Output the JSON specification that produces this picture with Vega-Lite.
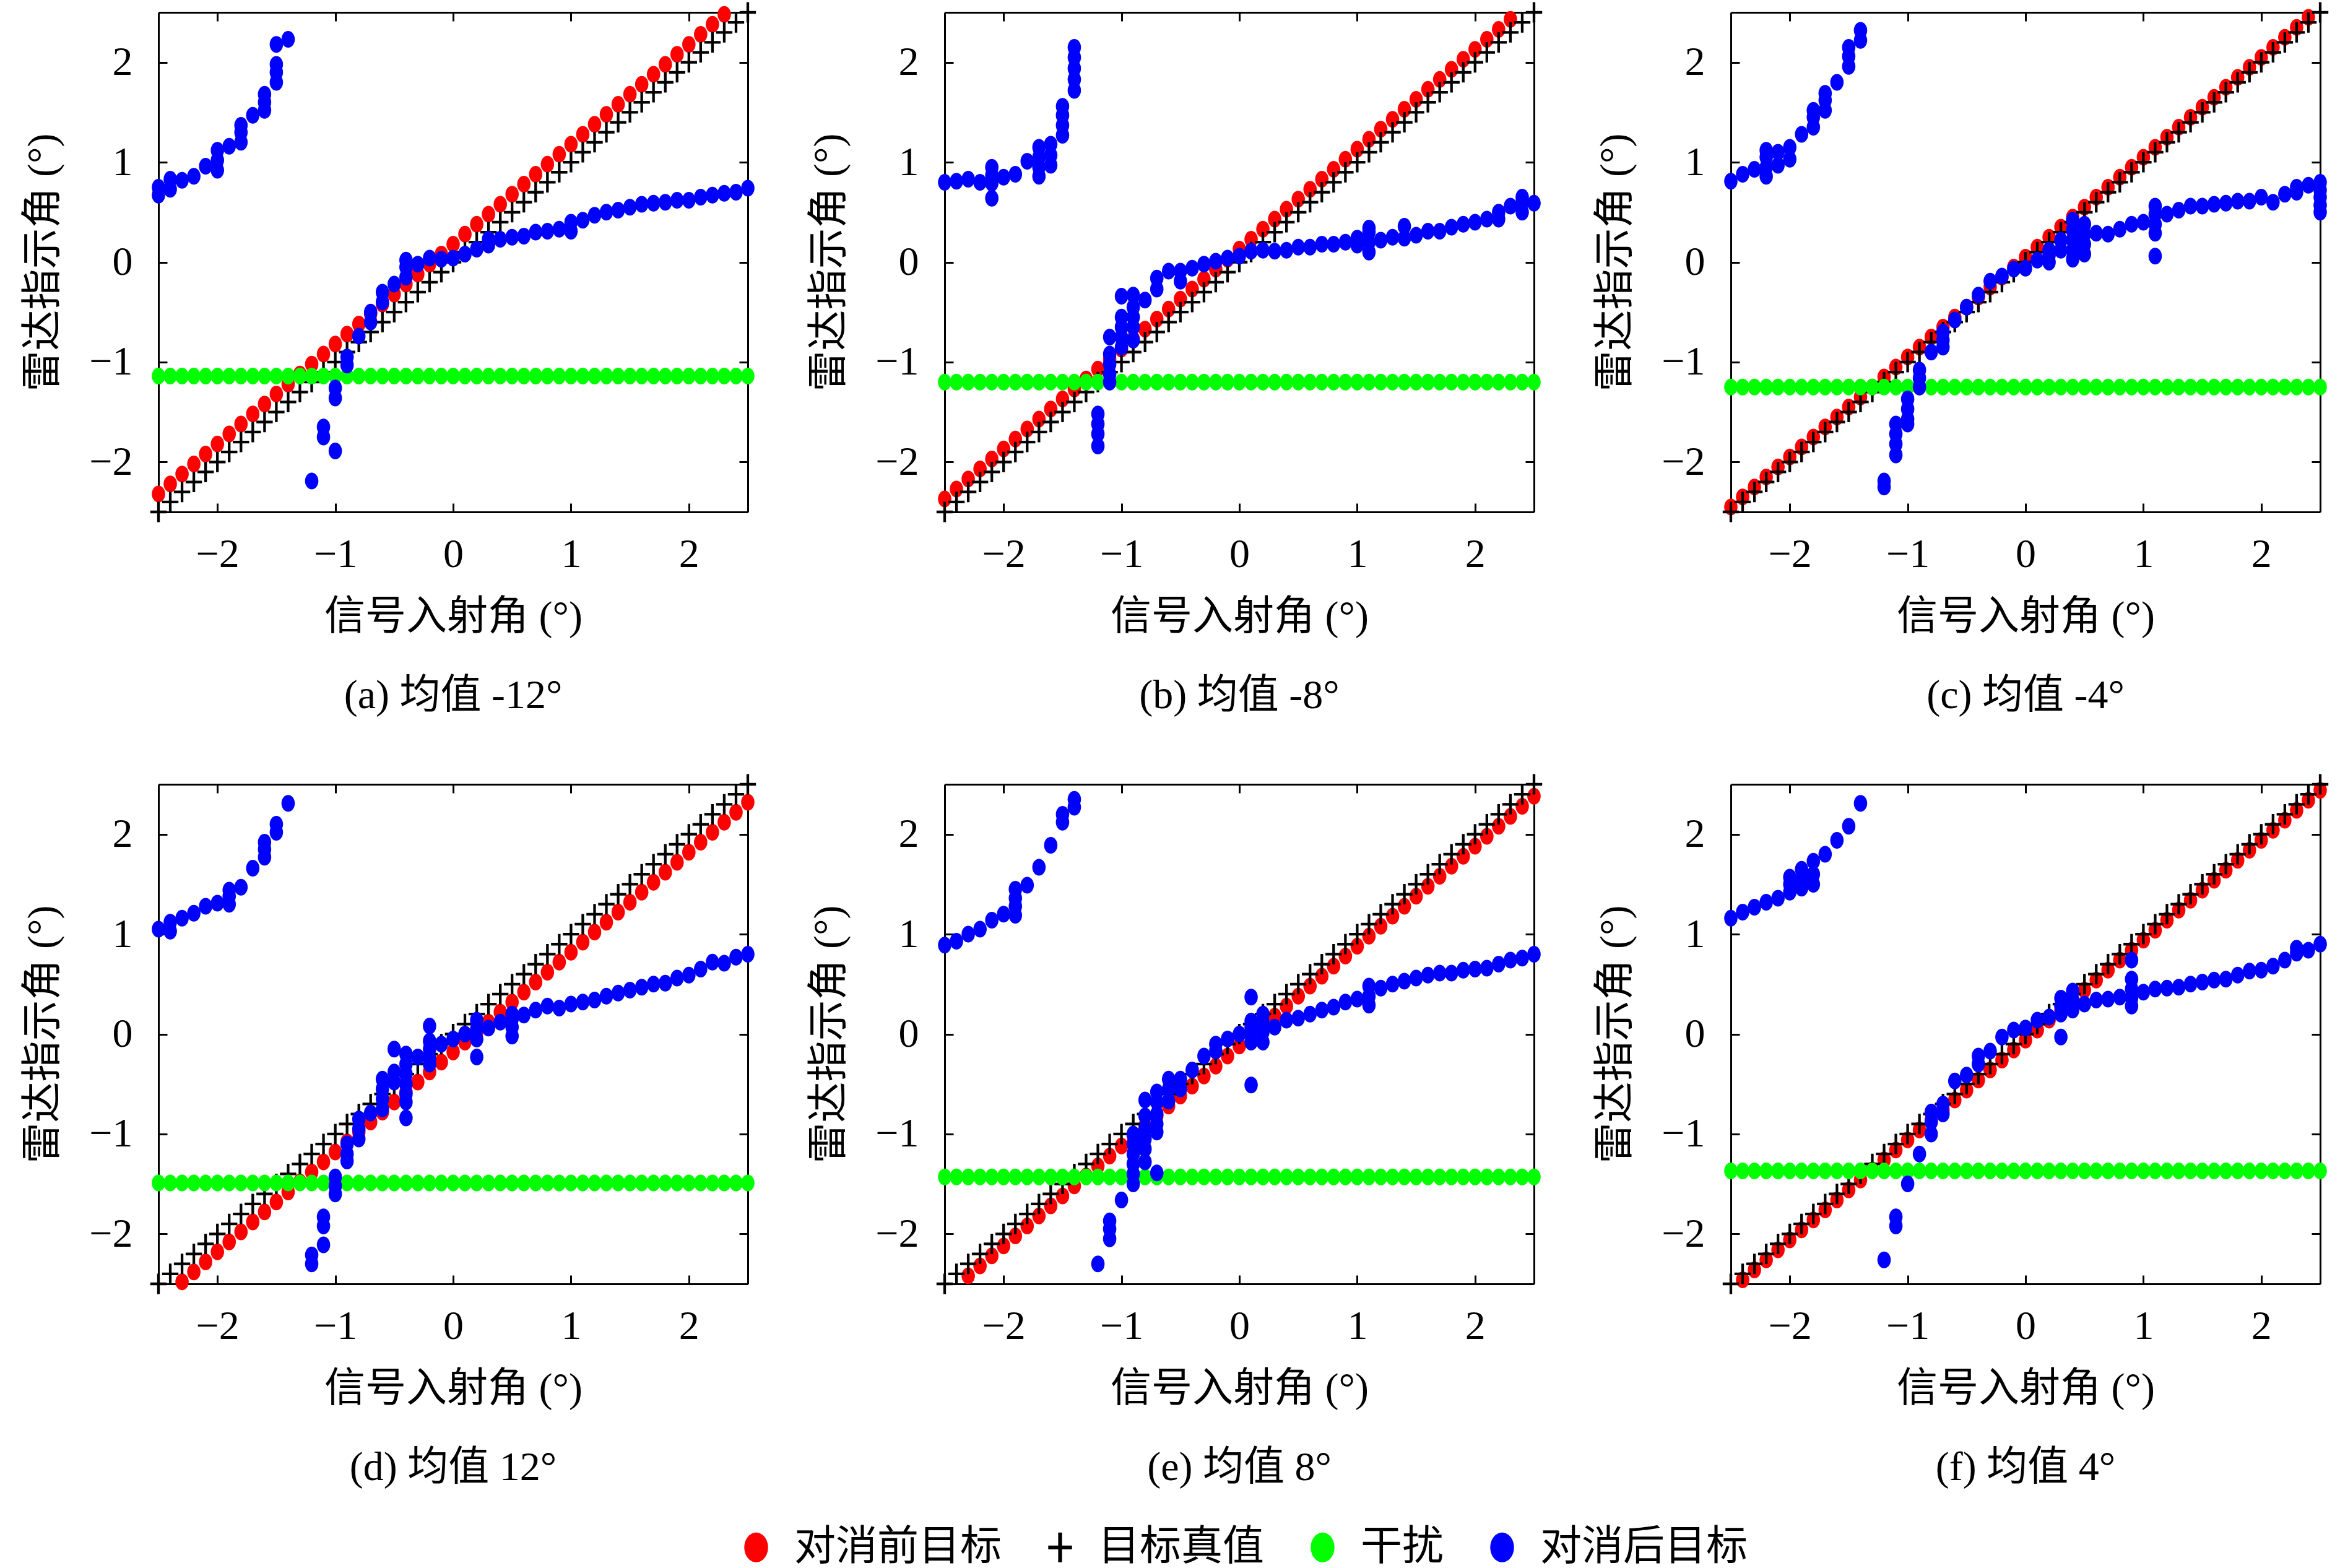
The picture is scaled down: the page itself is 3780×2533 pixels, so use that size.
{
  "$schema": "https://vega.github.io/schema/vega-lite/v6.json",
  "padding": {"left": 36, "top": 3, "right": 10, "bottom": 0},
  "background": "white",
  "data": {
    "values": [
      {"p":"a","x":-2.5,"r":-2.32,"g":-1.14},{"p":"a","x":-2.4,"r":-2.22,"g":-1.14},{"p":"a","x":-2.3,"r":-2.12,"g":-1.14},{"p":"a","x":-2.2,"r":-2.02,"g":-1.14},{"p":"a","x":-2.1,"r":-1.92,"g":-1.14},
      {"p":"a","x":-2.0,"r":-1.82,"g":-1.14},{"p":"a","x":-1.9,"r":-1.72,"g":-1.14},{"p":"a","x":-1.8,"r":-1.62,"g":-1.14},{"p":"a","x":-1.7,"r":-1.52,"g":-1.14},{"p":"a","x":-1.6,"r":-1.42,"g":-1.14},
      {"p":"a","x":-1.5,"r":-1.32,"g":-1.14},{"p":"a","x":-1.4,"r":-1.22,"g":-1.14},{"p":"a","x":-1.3,"r":-1.12,"g":-1.14},{"p":"a","x":-1.2,"r":-1.02,"g":-1.14},{"p":"a","x":-1.1,"r":-0.92,"g":-1.14},
      {"p":"a","x":-1.0,"r":-0.82,"g":-1.14},{"p":"a","x":-0.9,"r":-0.72,"g":-1.14},{"p":"a","x":-0.8,"r":-0.62,"g":-1.14},{"p":"a","x":-0.7,"r":-0.52,"g":-1.14},{"p":"a","x":-0.6,"r":-0.42,"g":-1.14},
      {"p":"a","x":-0.5,"r":-0.32,"g":-1.14},{"p":"a","x":-0.4,"r":-0.22,"g":-1.14},{"p":"a","x":-0.3,"r":-0.12,"g":-1.14},{"p":"a","x":-0.2,"r":-0.02,"g":-1.14},{"p":"a","x":-0.1,"r":0.08,"g":-1.14},
      {"p":"a","x":0.0,"r":0.18,"g":-1.14},{"p":"a","x":0.1,"r":0.28,"g":-1.14},{"p":"a","x":0.2,"r":0.38,"g":-1.14},{"p":"a","x":0.3,"r":0.48,"g":-1.14},{"p":"a","x":0.4,"r":0.58,"g":-1.14},
      {"p":"a","x":0.5,"r":0.68,"g":-1.14},{"p":"a","x":0.6,"r":0.78,"g":-1.14},{"p":"a","x":0.7,"r":0.88,"g":-1.14},{"p":"a","x":0.8,"r":0.98,"g":-1.14},{"p":"a","x":0.9,"r":1.08,"g":-1.14},
      {"p":"a","x":1.0,"r":1.18,"g":-1.14},{"p":"a","x":1.1,"r":1.28,"g":-1.14},{"p":"a","x":1.2,"r":1.38,"g":-1.14},{"p":"a","x":1.3,"r":1.48,"g":-1.14},{"p":"a","x":1.4,"r":1.58,"g":-1.14},
      {"p":"a","x":1.5,"r":1.68,"g":-1.14},{"p":"a","x":1.6,"r":1.78,"g":-1.14},{"p":"a","x":1.7,"r":1.88,"g":-1.14},{"p":"a","x":1.8,"r":1.98,"g":-1.14},{"p":"a","x":1.9,"r":2.08,"g":-1.14},
      {"p":"a","x":2.0,"r":2.18,"g":-1.14},{"p":"a","x":2.1,"r":2.28,"g":-1.14},{"p":"a","x":2.2,"r":2.38,"g":-1.14},{"p":"a","x":2.3,"r":2.48,"g":-1.14},{"p":"a","x":2.4,"g":-1.14},{"p":"a","x":2.5,"g":-1.14},

      {"p":"b","x":-2.5,"r":-2.37,"g":-1.2},{"p":"b","x":-2.4,"r":-2.27,"g":-1.2},{"p":"b","x":-2.3,"r":-2.17,"g":-1.2},{"p":"b","x":-2.2,"r":-2.07,"g":-1.2},{"p":"b","x":-2.1,"r":-1.97,"g":-1.2},
      {"p":"b","x":-2.0,"r":-1.87,"g":-1.2},{"p":"b","x":-1.9,"r":-1.77,"g":-1.2},{"p":"b","x":-1.8,"r":-1.67,"g":-1.2},{"p":"b","x":-1.7,"r":-1.57,"g":-1.2},{"p":"b","x":-1.6,"r":-1.47,"g":-1.2},
      {"p":"b","x":-1.5,"r":-1.37,"g":-1.2},{"p":"b","x":-1.4,"r":-1.27,"g":-1.2},{"p":"b","x":-1.3,"r":-1.17,"g":-1.2},{"p":"b","x":-1.2,"r":-1.07,"g":-1.2},{"p":"b","x":-1.1,"r":-0.97,"g":-1.2},
      {"p":"b","x":-1.0,"r":-0.87,"g":-1.2},{"p":"b","x":-0.9,"r":-0.77,"g":-1.2},{"p":"b","x":-0.8,"r":-0.67,"g":-1.2},{"p":"b","x":-0.7,"r":-0.57,"g":-1.2},{"p":"b","x":-0.6,"r":-0.47,"g":-1.2},
      {"p":"b","x":-0.5,"r":-0.37,"g":-1.2},{"p":"b","x":-0.4,"r":-0.27,"g":-1.2},{"p":"b","x":-0.3,"r":-0.17,"g":-1.2},{"p":"b","x":-0.2,"r":-0.07,"g":-1.2},{"p":"b","x":-0.1,"r":0.03,"g":-1.2},
      {"p":"b","x":0.0,"r":0.13,"g":-1.2},{"p":"b","x":0.1,"r":0.23,"g":-1.2},{"p":"b","x":0.2,"r":0.33,"g":-1.2},{"p":"b","x":0.3,"r":0.43,"g":-1.2},{"p":"b","x":0.4,"r":0.53,"g":-1.2},
      {"p":"b","x":0.5,"r":0.63,"g":-1.2},{"p":"b","x":0.6,"r":0.73,"g":-1.2},{"p":"b","x":0.7,"r":0.83,"g":-1.2},{"p":"b","x":0.8,"r":0.93,"g":-1.2},{"p":"b","x":0.9,"r":1.03,"g":-1.2},
      {"p":"b","x":1.0,"r":1.13,"g":-1.2},{"p":"b","x":1.1,"r":1.23,"g":-1.2},{"p":"b","x":1.2,"r":1.33,"g":-1.2},{"p":"b","x":1.3,"r":1.43,"g":-1.2},{"p":"b","x":1.4,"r":1.53,"g":-1.2},
      {"p":"b","x":1.5,"r":1.63,"g":-1.2},{"p":"b","x":1.6,"r":1.73,"g":-1.2},{"p":"b","x":1.7,"r":1.83,"g":-1.2},{"p":"b","x":1.8,"r":1.93,"g":-1.2},{"p":"b","x":1.9,"r":2.03,"g":-1.2},
      {"p":"b","x":2.0,"r":2.13,"g":-1.2},{"p":"b","x":2.1,"r":2.23,"g":-1.2},{"p":"b","x":2.2,"r":2.33,"g":-1.2},{"p":"b","x":2.3,"r":2.43,"g":-1.2},{"p":"b","x":2.4,"g":-1.2},{"p":"b","x":2.5,"g":-1.2},

      {"p":"c","x":-2.5,"r":-2.45,"g":-1.25},{"p":"c","x":-2.4,"r":-2.35,"g":-1.25},{"p":"c","x":-2.3,"r":-2.25,"g":-1.25},{"p":"c","x":-2.2,"r":-2.15,"g":-1.25},{"p":"c","x":-2.1,"r":-2.05,"g":-1.25},
      {"p":"c","x":-2.0,"r":-1.95,"g":-1.25},{"p":"c","x":-1.9,"r":-1.85,"g":-1.25},{"p":"c","x":-1.8,"r":-1.75,"g":-1.25},{"p":"c","x":-1.7,"r":-1.65,"g":-1.25},{"p":"c","x":-1.6,"r":-1.55,"g":-1.25},
      {"p":"c","x":-1.5,"r":-1.45,"g":-1.25},{"p":"c","x":-1.4,"r":-1.35,"g":-1.25},{"p":"c","x":-1.3,"r":-1.25,"g":-1.25},{"p":"c","x":-1.2,"r":-1.15,"g":-1.25},{"p":"c","x":-1.1,"r":-1.05,"g":-1.25},
      {"p":"c","x":-1.0,"r":-0.95,"g":-1.25},{"p":"c","x":-0.9,"r":-0.85,"g":-1.25},{"p":"c","x":-0.8,"r":-0.75,"g":-1.25},{"p":"c","x":-0.7,"r":-0.65,"g":-1.25},{"p":"c","x":-0.6,"r":-0.55,"g":-1.25},
      {"p":"c","x":-0.5,"r":-0.45,"g":-1.25},{"p":"c","x":-0.4,"r":-0.35,"g":-1.25},{"p":"c","x":-0.3,"r":-0.25,"g":-1.25},{"p":"c","x":-0.2,"r":-0.15,"g":-1.25},{"p":"c","x":-0.1,"r":-0.05,"g":-1.25},
      {"p":"c","x":0.0,"r":0.05,"g":-1.25},{"p":"c","x":0.1,"r":0.15,"g":-1.25},{"p":"c","x":0.2,"r":0.25,"g":-1.25},{"p":"c","x":0.3,"r":0.35,"g":-1.25},{"p":"c","x":0.4,"r":0.45,"g":-1.25},
      {"p":"c","x":0.5,"r":0.55,"g":-1.25},{"p":"c","x":0.6,"r":0.65,"g":-1.25},{"p":"c","x":0.7,"r":0.75,"g":-1.25},{"p":"c","x":0.8,"r":0.85,"g":-1.25},{"p":"c","x":0.9,"r":0.95,"g":-1.25},
      {"p":"c","x":1.0,"r":1.05,"g":-1.25},{"p":"c","x":1.1,"r":1.15,"g":-1.25},{"p":"c","x":1.2,"r":1.25,"g":-1.25},{"p":"c","x":1.3,"r":1.35,"g":-1.25},{"p":"c","x":1.4,"r":1.45,"g":-1.25},
      {"p":"c","x":1.5,"r":1.55,"g":-1.25},{"p":"c","x":1.6,"r":1.65,"g":-1.25},{"p":"c","x":1.7,"r":1.75,"g":-1.25},{"p":"c","x":1.8,"r":1.85,"g":-1.25},{"p":"c","x":1.9,"r":1.95,"g":-1.25},
      {"p":"c","x":2.0,"r":2.05,"g":-1.25},{"p":"c","x":2.1,"r":2.15,"g":-1.25},{"p":"c","x":2.2,"r":2.25,"g":-1.25},{"p":"c","x":2.3,"r":2.35,"g":-1.25},{"p":"c","x":2.4,"r":2.45,"g":-1.25},{"p":"c","x":2.5,"g":-1.25},

      {"p":"d","x":-2.5,"g":-1.49},{"p":"d","x":-2.4,"g":-1.49},{"p":"d","x":-2.3,"r":-2.48,"g":-1.49},{"p":"d","x":-2.2,"r":-2.38,"g":-1.49},{"p":"d","x":-2.1,"r":-2.28,"g":-1.49},
      {"p":"d","x":-2.0,"r":-2.18,"g":-1.49},{"p":"d","x":-1.9,"r":-2.08,"g":-1.49},{"p":"d","x":-1.8,"r":-1.98,"g":-1.49},{"p":"d","x":-1.7,"r":-1.88,"g":-1.49},{"p":"d","x":-1.6,"r":-1.78,"g":-1.49},
      {"p":"d","x":-1.5,"r":-1.68,"g":-1.49},{"p":"d","x":-1.4,"r":-1.58,"g":-1.49},{"p":"d","x":-1.3,"r":-1.48,"g":-1.49},{"p":"d","x":-1.2,"r":-1.38,"g":-1.49},{"p":"d","x":-1.1,"r":-1.28,"g":-1.49},
      {"p":"d","x":-1.0,"r":-1.18,"g":-1.49},{"p":"d","x":-0.9,"r":-1.08,"g":-1.49},{"p":"d","x":-0.8,"r":-0.98,"g":-1.49},{"p":"d","x":-0.7,"r":-0.88,"g":-1.49},{"p":"d","x":-0.6,"r":-0.78,"g":-1.49},
      {"p":"d","x":-0.5,"r":-0.68,"g":-1.49},{"p":"d","x":-0.4,"r":-0.58,"g":-1.49},{"p":"d","x":-0.3,"r":-0.48,"g":-1.49},{"p":"d","x":-0.2,"r":-0.38,"g":-1.49},{"p":"d","x":-0.1,"r":-0.28,"g":-1.49},
      {"p":"d","x":0.0,"r":-0.18,"g":-1.49},{"p":"d","x":0.1,"r":-0.08,"g":-1.49},{"p":"d","x":0.2,"r":0.02,"g":-1.49},{"p":"d","x":0.3,"r":0.12,"g":-1.49},{"p":"d","x":0.4,"r":0.22,"g":-1.49},
      {"p":"d","x":0.5,"r":0.32,"g":-1.49},{"p":"d","x":0.6,"r":0.42,"g":-1.49},{"p":"d","x":0.7,"r":0.52,"g":-1.49},{"p":"d","x":0.8,"r":0.62,"g":-1.49},{"p":"d","x":0.9,"r":0.72,"g":-1.49},
      {"p":"d","x":1.0,"r":0.82,"g":-1.49},{"p":"d","x":1.1,"r":0.92,"g":-1.49},{"p":"d","x":1.2,"r":1.02,"g":-1.49},{"p":"d","x":1.3,"r":1.12,"g":-1.49},{"p":"d","x":1.4,"r":1.22,"g":-1.49},
      {"p":"d","x":1.5,"r":1.32,"g":-1.49},{"p":"d","x":1.6,"r":1.42,"g":-1.49},{"p":"d","x":1.7,"r":1.52,"g":-1.49},{"p":"d","x":1.8,"r":1.62,"g":-1.49},{"p":"d","x":1.9,"r":1.72,"g":-1.49},
      {"p":"d","x":2.0,"r":1.82,"g":-1.49},{"p":"d","x":2.1,"r":1.92,"g":-1.49},{"p":"d","x":2.2,"r":2.02,"g":-1.49},{"p":"d","x":2.3,"r":2.12,"g":-1.49},{"p":"d","x":2.4,"r":2.22,"g":-1.49},{"p":"d","x":2.5,"r":2.32,"g":-1.49},

      {"p":"e","x":-2.5,"g":-1.43},{"p":"e","x":-2.4,"g":-1.43},{"p":"e","x":-2.3,"r":-2.42,"g":-1.43},{"p":"e","x":-2.2,"r":-2.32,"g":-1.43},{"p":"e","x":-2.1,"r":-2.22,"g":-1.43},
      {"p":"e","x":-2.0,"r":-2.12,"g":-1.43},{"p":"e","x":-1.9,"r":-2.02,"g":-1.43},{"p":"e","x":-1.8,"r":-1.92,"g":-1.43},{"p":"e","x":-1.7,"r":-1.82,"g":-1.43},{"p":"e","x":-1.6,"r":-1.72,"g":-1.43},
      {"p":"e","x":-1.5,"r":-1.62,"g":-1.43},{"p":"e","x":-1.4,"r":-1.52,"g":-1.43},{"p":"e","x":-1.3,"r":-1.42,"g":-1.43},{"p":"e","x":-1.2,"r":-1.32,"g":-1.43},{"p":"e","x":-1.1,"r":-1.22,"g":-1.43},
      {"p":"e","x":-1.0,"r":-1.12,"g":-1.43},{"p":"e","x":-0.9,"r":-1.02,"g":-1.43},{"p":"e","x":-0.8,"r":-0.92,"g":-1.43},{"p":"e","x":-0.7,"r":-0.82,"g":-1.43},{"p":"e","x":-0.6,"r":-0.72,"g":-1.43},
      {"p":"e","x":-0.5,"r":-0.62,"g":-1.43},{"p":"e","x":-0.4,"r":-0.52,"g":-1.43},{"p":"e","x":-0.3,"r":-0.42,"g":-1.43},{"p":"e","x":-0.2,"r":-0.32,"g":-1.43},{"p":"e","x":-0.1,"r":-0.22,"g":-1.43},
      {"p":"e","x":0.0,"r":-0.12,"g":-1.43},{"p":"e","x":0.1,"r":-0.02,"g":-1.43},{"p":"e","x":0.2,"r":0.08,"g":-1.43},{"p":"e","x":0.3,"r":0.18,"g":-1.43},{"p":"e","x":0.4,"r":0.28,"g":-1.43},
      {"p":"e","x":0.5,"r":0.38,"g":-1.43},{"p":"e","x":0.6,"r":0.48,"g":-1.43},{"p":"e","x":0.7,"r":0.58,"g":-1.43},{"p":"e","x":0.8,"r":0.68,"g":-1.43},{"p":"e","x":0.9,"r":0.78,"g":-1.43},
      {"p":"e","x":1.0,"r":0.88,"g":-1.43},{"p":"e","x":1.1,"r":0.98,"g":-1.43},{"p":"e","x":1.2,"r":1.08,"g":-1.43},{"p":"e","x":1.3,"r":1.18,"g":-1.43},{"p":"e","x":1.4,"r":1.28,"g":-1.43},
      {"p":"e","x":1.5,"r":1.38,"g":-1.43},{"p":"e","x":1.6,"r":1.48,"g":-1.43},{"p":"e","x":1.7,"r":1.58,"g":-1.43},{"p":"e","x":1.8,"r":1.68,"g":-1.43},{"p":"e","x":1.9,"r":1.78,"g":-1.43},
      {"p":"e","x":2.0,"r":1.88,"g":-1.43},{"p":"e","x":2.1,"r":1.98,"g":-1.43},{"p":"e","x":2.2,"r":2.08,"g":-1.43},{"p":"e","x":2.3,"r":2.18,"g":-1.43},{"p":"e","x":2.4,"r":2.28,"g":-1.43},{"p":"e","x":2.5,"r":2.38,"g":-1.43},

      {"p":"f","x":-2.5,"g":-1.37},{"p":"f","x":-2.4,"r":-2.46,"g":-1.37},{"p":"f","x":-2.3,"r":-2.36,"g":-1.37},{"p":"f","x":-2.2,"r":-2.26,"g":-1.37},{"p":"f","x":-2.1,"r":-2.16,"g":-1.37},
      {"p":"f","x":-2.0,"r":-2.06,"g":-1.37},{"p":"f","x":-1.9,"r":-1.96,"g":-1.37},{"p":"f","x":-1.8,"r":-1.86,"g":-1.37},{"p":"f","x":-1.7,"r":-1.76,"g":-1.37},{"p":"f","x":-1.6,"r":-1.66,"g":-1.37},
      {"p":"f","x":-1.5,"r":-1.56,"g":-1.37},{"p":"f","x":-1.4,"r":-1.46,"g":-1.37},{"p":"f","x":-1.3,"r":-1.36,"g":-1.37},{"p":"f","x":-1.2,"r":-1.26,"g":-1.37},{"p":"f","x":-1.1,"r":-1.16,"g":-1.37},
      {"p":"f","x":-1.0,"r":-1.06,"g":-1.37},{"p":"f","x":-0.9,"r":-0.96,"g":-1.37},{"p":"f","x":-0.8,"r":-0.86,"g":-1.37},{"p":"f","x":-0.7,"r":-0.76,"g":-1.37},{"p":"f","x":-0.6,"r":-0.66,"g":-1.37},
      {"p":"f","x":-0.5,"r":-0.56,"g":-1.37},{"p":"f","x":-0.4,"r":-0.46,"g":-1.37},{"p":"f","x":-0.3,"r":-0.36,"g":-1.37},{"p":"f","x":-0.2,"r":-0.26,"g":-1.37},{"p":"f","x":-0.1,"r":-0.16,"g":-1.37},
      {"p":"f","x":0.0,"r":-0.06,"g":-1.37},{"p":"f","x":0.1,"r":0.04,"g":-1.37},{"p":"f","x":0.2,"r":0.14,"g":-1.37},{"p":"f","x":0.3,"r":0.24,"g":-1.37},{"p":"f","x":0.4,"r":0.34,"g":-1.37},
      {"p":"f","x":0.5,"r":0.44,"g":-1.37},{"p":"f","x":0.6,"r":0.54,"g":-1.37},{"p":"f","x":0.7,"r":0.64,"g":-1.37},{"p":"f","x":0.8,"r":0.74,"g":-1.37},{"p":"f","x":0.9,"r":0.84,"g":-1.37},
      {"p":"f","x":1.0,"r":0.94,"g":-1.37},{"p":"f","x":1.1,"r":1.04,"g":-1.37},{"p":"f","x":1.2,"r":1.14,"g":-1.37},{"p":"f","x":1.3,"r":1.24,"g":-1.37},{"p":"f","x":1.4,"r":1.34,"g":-1.37},
      {"p":"f","x":1.5,"r":1.44,"g":-1.37},{"p":"f","x":1.6,"r":1.54,"g":-1.37},{"p":"f","x":1.7,"r":1.64,"g":-1.37},{"p":"f","x":1.8,"r":1.74,"g":-1.37},{"p":"f","x":1.9,"r":1.84,"g":-1.37},
      {"p":"f","x":2.0,"r":1.94,"g":-1.37},{"p":"f","x":2.1,"r":2.04,"g":-1.37},{"p":"f","x":2.2,"r":2.14,"g":-1.37},{"p":"f","x":2.3,"r":2.24,"g":-1.37},{"p":"f","x":2.4,"r":2.34,"g":-1.37},{"p":"f","x":2.5,"r":2.44,"g":-1.37},

      {"p":"a","x":-2.5,"b":0.67},{"p":"a","x":-2.5,"b":0.75},{"p":"a","x":-2.4,"b":0.73},{"p":"a","x":-2.4,"b":0.83},{"p":"a","x":-2.3,"b":0.82},{"p":"a","x":-2.2,"b":0.86},{"p":"a","x":-2.1,"b":0.96},
      {"p":"a","x":-2.0,"b":0.92},{"p":"a","x":-2.0,"b":1.02},{"p":"a","x":-2.0,"b":1.12},{"p":"a","x":-1.9,"b":1.16},{"p":"a","x":-1.8,"b":1.2},{"p":"a","x":-1.8,"b":1.3},{"p":"a","x":-1.8,"b":1.37},
      {"p":"a","x":-1.7,"b":1.47},{"p":"a","x":-1.6,"b":1.52},{"p":"a","x":-1.6,"b":1.6},{"p":"a","x":-1.6,"b":1.68},{"p":"a","x":-1.5,"b":1.8},{"p":"a","x":-1.5,"b":1.9},{"p":"a","x":-1.5,"b":1.98},{"p":"a","x":-1.5,"b":2.18},
      {"p":"a","x":-1.4,"b":2.23},{"p":"a","x":-1.2,"b":-2.19},{"p":"a","x":-1.1,"b":-1.65},{"p":"a","x":-1.1,"b":-1.75},{"p":"a","x":-1.0,"b":-1.89},{"p":"a","x":-1.0,"b":-1.26},{"p":"a","x":-1.0,"b":-1.36},
      {"p":"a","x":-0.9,"b":-0.95},{"p":"a","x":-0.9,"b":-1.03},{"p":"a","x":-0.8,"b":-0.74},{"p":"a","x":-0.7,"b":-0.5},{"p":"a","x":-0.7,"b":-0.6},{"p":"a","x":-0.6,"b":-0.3},{"p":"a","x":-0.6,"b":-0.4},
      {"p":"a","x":-0.5,"b":-0.22},{"p":"a","x":-0.4,"b":-0.15},{"p":"a","x":-0.4,"b":-0.05},{"p":"a","x":-0.4,"b":0.02},{"p":"a","x":-0.3,"b":-0.02},{"p":"a","x":-0.2,"b":0.04},{"p":"a","x":-0.1,"b":0.03},
      {"p":"a","x":0.0,"b":0.04},{"p":"a","x":0.1,"b":0.08},{"p":"a","x":0.2,"b":0.13},{"p":"a","x":0.3,"b":0.17},{"p":"a","x":0.3,"b":0.23},{"p":"a","x":0.4,"b":0.23},{"p":"a","x":0.5,"b":0.25},{"p":"a","x":0.6,"b":0.26},
      {"p":"a","x":0.7,"b":0.3},{"p":"a","x":0.8,"b":0.31},{"p":"a","x":0.9,"b":0.33},{"p":"a","x":1.0,"b":0.31},{"p":"a","x":1.0,"b":0.4},{"p":"a","x":1.1,"b":0.42},{"p":"a","x":1.2,"b":0.47},{"p":"a","x":1.3,"b":0.5},
      {"p":"a","x":1.4,"b":0.52},{"p":"a","x":1.5,"b":0.55},{"p":"a","x":1.6,"b":0.58},{"p":"a","x":1.7,"b":0.59},{"p":"a","x":1.8,"b":0.6},{"p":"a","x":1.9,"b":0.62},{"p":"a","x":2.0,"b":0.62},{"p":"a","x":2.1,"b":0.65},
      {"p":"a","x":2.2,"b":0.67},{"p":"a","x":2.3,"b":0.69},{"p":"a","x":2.4,"b":0.7},{"p":"a","x":2.5,"b":0.74},

      {"p":"b","x":-2.5,"b":0.8},{"p":"b","x":-2.4,"b":0.81},{"p":"b","x":-2.3,"b":0.83},{"p":"b","x":-2.2,"b":0.8},{"p":"b","x":-2.1,"b":0.64},{"p":"b","x":-2.1,"b":0.79},{"p":"b","x":-2.1,"b":0.87},{"p":"b","x":-2.1,"b":0.95},
      {"p":"b","x":-2.0,"b":0.85},{"p":"b","x":-1.9,"b":0.88},{"p":"b","x":-1.8,"b":1.01},{"p":"b","x":-1.7,"b":0.86},{"p":"b","x":-1.7,"b":0.95},{"p":"b","x":-1.7,"b":1.05},{"p":"b","x":-1.7,"b":1.15},
      {"p":"b","x":-1.6,"b":0.97},{"p":"b","x":-1.6,"b":1.07},{"p":"b","x":-1.6,"b":1.18},{"p":"b","x":-1.5,"b":1.27},{"p":"b","x":-1.5,"b":1.37},{"p":"b","x":-1.5,"b":1.47},{"p":"b","x":-1.5,"b":1.56},
      {"p":"b","x":-1.4,"b":1.72},{"p":"b","x":-1.4,"b":1.83},{"p":"b","x":-1.4,"b":1.94},{"p":"b","x":-1.4,"b":2.05},{"p":"b","x":-1.4,"b":2.15},
      {"p":"b","x":-1.2,"b":-1.52},{"p":"b","x":-1.2,"b":-1.62},{"p":"b","x":-1.2,"b":-1.72},{"p":"b","x":-1.2,"b":-1.84},
      {"p":"b","x":-1.1,"b":-0.75},{"p":"b","x":-1.1,"b":-0.92},{"p":"b","x":-1.1,"b":-1.02},{"p":"b","x":-1.1,"b":-1.12},{"p":"b","x":-1.1,"b":-1.2},
      {"p":"b","x":-1.0,"b":-0.34},{"p":"b","x":-1.0,"b":-0.55},{"p":"b","x":-1.0,"b":-0.65},{"p":"b","x":-1.0,"b":-0.75},{"p":"b","x":-1.0,"b":-0.85},
      {"p":"b","x":-0.9,"b":-0.33},{"p":"b","x":-0.9,"b":-0.45},{"p":"b","x":-0.9,"b":-0.55},{"p":"b","x":-0.9,"b":-0.65},{"p":"b","x":-0.9,"b":-0.78},
      {"p":"b","x":-0.8,"b":-0.38},{"p":"b","x":-0.7,"b":-0.16},{"p":"b","x":-0.7,"b":-0.27},{"p":"b","x":-0.6,"b":-0.09},{"p":"b","x":-0.5,"b":-0.09},{"p":"b","x":-0.5,"b":-0.19},
      {"p":"b","x":-0.4,"b":-0.06},{"p":"b","x":-0.3,"b":-0.02},{"p":"b","x":-0.2,"b":0.01},{"p":"b","x":-0.1,"b":0.04},{"p":"b","x":0.0,"b":0.06},{"p":"b","x":0.1,"b":0.11},{"p":"b","x":0.2,"b":0.12},
      {"p":"b","x":0.3,"b":0.11},{"p":"b","x":0.4,"b":0.12},{"p":"b","x":0.5,"b":0.15},{"p":"b","x":0.6,"b":0.15},{"p":"b","x":0.7,"b":0.18},{"p":"b","x":0.8,"b":0.18},{"p":"b","x":0.9,"b":0.2},
      {"p":"b","x":1.0,"b":0.17},{"p":"b","x":1.0,"b":0.24},{"p":"b","x":1.1,"b":0.1},{"p":"b","x":1.1,"b":0.2},{"p":"b","x":1.1,"b":0.3},{"p":"b","x":1.1,"b":0.34},{"p":"b","x":1.2,"b":0.22},{"p":"b","x":1.3,"b":0.25},
      {"p":"b","x":1.4,"b":0.24},{"p":"b","x":1.4,"b":0.36},{"p":"b","x":1.5,"b":0.27},{"p":"b","x":1.6,"b":0.31},{"p":"b","x":1.7,"b":0.31},{"p":"b","x":1.8,"b":0.35},{"p":"b","x":1.9,"b":0.38},{"p":"b","x":2.0,"b":0.4},
      {"p":"b","x":2.1,"b":0.43},{"p":"b","x":2.2,"b":0.43},{"p":"b","x":2.2,"b":0.5},{"p":"b","x":2.3,"b":0.56},{"p":"b","x":2.4,"b":0.5},{"p":"b","x":2.4,"b":0.6},{"p":"b","x":2.4,"b":0.65},{"p":"b","x":2.5,"b":0.59},

      {"p":"c","x":-2.5,"b":0.81},{"p":"c","x":-2.4,"b":0.88},{"p":"c","x":-2.3,"b":0.93},{"p":"c","x":-2.2,"b":0.86},{"p":"c","x":-2.2,"b":0.95},{"p":"c","x":-2.2,"b":1.05},{"p":"c","x":-2.2,"b":1.12},
      {"p":"c","x":-2.1,"b":0.97},{"p":"c","x":-2.1,"b":1.1},{"p":"c","x":-2.0,"b":1.03},{"p":"c","x":-2.0,"b":1.15},{"p":"c","x":-1.9,"b":1.28},{"p":"c","x":-1.8,"b":1.35},{"p":"c","x":-1.8,"b":1.45},{"p":"c","x":-1.8,"b":1.52},
      {"p":"c","x":-1.7,"b":1.52},{"p":"c","x":-1.7,"b":1.62},{"p":"c","x":-1.7,"b":1.69},{"p":"c","x":-1.6,"b":1.8},{"p":"c","x":-1.5,"b":1.96},{"p":"c","x":-1.5,"b":2.06},{"p":"c","x":-1.5,"b":2.15},
      {"p":"c","x":-1.4,"b":2.22},{"p":"c","x":-1.4,"b":2.32},{"p":"c","x":-1.2,"b":-2.19},{"p":"c","x":-1.2,"b":-2.25},
      {"p":"c","x":-1.1,"b":-1.62},{"p":"c","x":-1.1,"b":-1.72},{"p":"c","x":-1.1,"b":-1.82},{"p":"c","x":-1.1,"b":-1.93},
      {"p":"c","x":-1.0,"b":-1.37},{"p":"c","x":-1.0,"b":-1.47},{"p":"c","x":-1.0,"b":-1.57},{"p":"c","x":-1.0,"b":-1.62},
      {"p":"c","x":-0.9,"b":-1.08},{"p":"c","x":-0.9,"b":-1.16},{"p":"c","x":-0.9,"b":-1.25},{"p":"c","x":-0.8,"b":-0.9},
      {"p":"c","x":-0.7,"b":-0.7},{"p":"c","x":-0.7,"b":-0.78},{"p":"c","x":-0.7,"b":-0.85},{"p":"c","x":-0.6,"b":-0.58},{"p":"c","x":-0.5,"b":-0.45},{"p":"c","x":-0.4,"b":-0.33},
      {"p":"c","x":-0.3,"b":-0.19},{"p":"c","x":-0.2,"b":-0.14},{"p":"c","x":-0.1,"b":-0.07},{"p":"c","x":0.0,"b":-0.06},{"p":"c","x":0.1,"b":0.02},
      {"p":"c","x":0.2,"b":0.0},{"p":"c","x":0.2,"b":0.07},{"p":"c","x":0.2,"b":0.12},{"p":"c","x":0.3,"b":0.12},{"p":"c","x":0.3,"b":0.22},
      {"p":"c","x":0.4,"b":0.03},{"p":"c","x":0.4,"b":0.12},{"p":"c","x":0.4,"b":0.22},{"p":"c","x":0.4,"b":0.32},{"p":"c","x":0.4,"b":0.42},
      {"p":"c","x":0.5,"b":0.08},{"p":"c","x":0.5,"b":0.18},{"p":"c","x":0.5,"b":0.28},{"p":"c","x":0.5,"b":0.38},
      {"p":"c","x":0.6,"b":0.29},{"p":"c","x":0.7,"b":0.28},{"p":"c","x":0.8,"b":0.33},{"p":"c","x":0.9,"b":0.38},{"p":"c","x":1.0,"b":0.4},
      {"p":"c","x":1.1,"b":0.06},{"p":"c","x":1.1,"b":0.29},{"p":"c","x":1.1,"b":0.38},{"p":"c","x":1.1,"b":0.48},{"p":"c","x":1.1,"b":0.56},
      {"p":"c","x":1.2,"b":0.48},{"p":"c","x":1.3,"b":0.52},{"p":"c","x":1.4,"b":0.56},{"p":"c","x":1.5,"b":0.56},{"p":"c","x":1.6,"b":0.58},{"p":"c","x":1.7,"b":0.59},{"p":"c","x":1.8,"b":0.61},
      {"p":"c","x":1.9,"b":0.61},{"p":"c","x":2.0,"b":0.65},{"p":"c","x":2.1,"b":0.6},{"p":"c","x":2.2,"b":0.68},{"p":"c","x":2.3,"b":0.7},{"p":"c","x":2.3,"b":0.75},{"p":"c","x":2.4,"b":0.77},
      {"p":"c","x":2.5,"b":0.5},{"p":"c","x":2.5,"b":0.57},{"p":"c","x":2.5,"b":0.65},{"p":"c","x":2.5,"b":0.72},{"p":"c","x":2.5,"b":0.8},

      {"p":"d","x":-2.5,"b":1.05},{"p":"d","x":-2.4,"b":1.03},{"p":"d","x":-2.4,"b":1.12},{"p":"d","x":-2.3,"b":1.16},{"p":"d","x":-2.2,"b":1.21},{"p":"d","x":-2.1,"b":1.28},{"p":"d","x":-2.0,"b":1.31},
      {"p":"d","x":-1.9,"b":1.3},{"p":"d","x":-1.9,"b":1.38},{"p":"d","x":-1.9,"b":1.44},{"p":"d","x":-1.8,"b":1.47},{"p":"d","x":-1.7,"b":1.66},{"p":"d","x":-1.6,"b":1.77},{"p":"d","x":-1.6,"b":1.85},{"p":"d","x":-1.6,"b":1.92},
      {"p":"d","x":-1.5,"b":2.02},{"p":"d","x":-1.5,"b":2.1},{"p":"d","x":-1.4,"b":2.31},{"p":"d","x":-1.2,"b":-2.21},{"p":"d","x":-1.2,"b":-2.3},
      {"p":"d","x":-1.1,"b":-1.83},{"p":"d","x":-1.1,"b":-1.92},{"p":"d","x":-1.1,"b":-2.11},{"p":"d","x":-1.0,"b":-1.43},{"p":"d","x":-1.0,"b":-1.52},{"p":"d","x":-1.0,"b":-1.6},
      {"p":"d","x":-0.9,"b":-1.1},{"p":"d","x":-0.9,"b":-1.2},{"p":"d","x":-0.9,"b":-1.27},{"p":"d","x":-0.8,"b":-0.85},{"p":"d","x":-0.8,"b":-0.95},{"p":"d","x":-0.8,"b":-1.05},{"p":"d","x":-0.7,"b":-0.79},
      {"p":"d","x":-0.6,"b":-0.45},{"p":"d","x":-0.6,"b":-0.55},{"p":"d","x":-0.6,"b":-0.65},{"p":"d","x":-0.6,"b":-0.75},
      {"p":"d","x":-0.5,"b":-0.15},{"p":"d","x":-0.5,"b":-0.38},{"p":"d","x":-0.5,"b":-0.48},
      {"p":"d","x":-0.4,"b":-0.2},{"p":"d","x":-0.4,"b":-0.3},{"p":"d","x":-0.4,"b":-0.4},{"p":"d","x":-0.4,"b":-0.5},{"p":"d","x":-0.4,"b":-0.6},{"p":"d","x":-0.4,"b":-0.68},{"p":"d","x":-0.4,"b":-0.84},
      {"p":"d","x":-0.3,"b":-0.23},{"p":"d","x":-0.2,"b":0.08},{"p":"d","x":-0.2,"b":-0.07},{"p":"d","x":-0.2,"b":-0.15},{"p":"d","x":-0.2,"b":-0.25},{"p":"d","x":-0.2,"b":-0.3},
      {"p":"d","x":-0.1,"b":-0.1},{"p":"d","x":0.0,"b":-0.05},{"p":"d","x":0.1,"b":0.0},{"p":"d","x":0.2,"b":-0.05},{"p":"d","x":0.2,"b":0.05},{"p":"d","x":0.2,"b":0.14},{"p":"d","x":0.2,"b":-0.23},
      {"p":"d","x":0.3,"b":0.06},{"p":"d","x":0.4,"b":0.12},{"p":"d","x":0.5,"b":-0.02},{"p":"d","x":0.5,"b":0.07},{"p":"d","x":0.5,"b":0.15},{"p":"d","x":0.5,"b":0.2},
      {"p":"d","x":0.6,"b":0.19},{"p":"d","x":0.7,"b":0.24},{"p":"d","x":0.8,"b":0.28},{"p":"d","x":0.9,"b":0.26},{"p":"d","x":1.0,"b":0.3},{"p":"d","x":1.1,"b":0.32},{"p":"d","x":1.2,"b":0.34},
      {"p":"d","x":1.3,"b":0.38},{"p":"d","x":1.4,"b":0.41},{"p":"d","x":1.5,"b":0.44},{"p":"d","x":1.6,"b":0.47},{"p":"d","x":1.7,"b":0.5},{"p":"d","x":1.8,"b":0.51},{"p":"d","x":1.9,"b":0.56},
      {"p":"d","x":2.0,"b":0.59},{"p":"d","x":2.1,"b":0.65},{"p":"d","x":2.2,"b":0.72},{"p":"d","x":2.3,"b":0.71},{"p":"d","x":2.4,"b":0.77},{"p":"d","x":2.5,"b":0.8},

      {"p":"e","x":-2.5,"b":0.89},{"p":"e","x":-2.4,"b":0.93},{"p":"e","x":-2.3,"b":1.0},{"p":"e","x":-2.2,"b":1.05},{"p":"e","x":-2.1,"b":1.14},{"p":"e","x":-2.0,"b":1.2},
      {"p":"e","x":-1.9,"b":1.19},{"p":"e","x":-1.9,"b":1.28},{"p":"e","x":-1.9,"b":1.36},{"p":"e","x":-1.9,"b":1.45},{"p":"e","x":-1.8,"b":1.49},{"p":"e","x":-1.7,"b":1.67},{"p":"e","x":-1.6,"b":1.89},
      {"p":"e","x":-1.5,"b":2.12},{"p":"e","x":-1.5,"b":2.2},{"p":"e","x":-1.4,"b":2.27},{"p":"e","x":-1.4,"b":2.35},
      {"p":"e","x":-1.2,"b":-2.3},{"p":"e","x":-1.1,"b":-1.87},{"p":"e","x":-1.1,"b":-1.95},{"p":"e","x":-1.1,"b":-2.05},{"p":"e","x":-1.0,"b":-1.66},
      {"p":"e","x":-0.9,"b":-1.0},{"p":"e","x":-0.9,"b":-1.1},{"p":"e","x":-0.9,"b":-1.2},{"p":"e","x":-0.9,"b":-1.3},{"p":"e","x":-0.9,"b":-1.4},{"p":"e","x":-0.9,"b":-1.5},
      {"p":"e","x":-0.8,"b":-0.66},{"p":"e","x":-0.8,"b":-0.82},{"p":"e","x":-0.8,"b":-0.95},{"p":"e","x":-0.8,"b":-1.05},{"p":"e","x":-0.8,"b":-1.15},{"p":"e","x":-0.8,"b":-1.28},
      {"p":"e","x":-0.7,"b":-0.58},{"p":"e","x":-0.7,"b":-0.68},{"p":"e","x":-0.7,"b":-0.8},{"p":"e","x":-0.7,"b":-0.9},{"p":"e","x":-0.7,"b":-0.98},{"p":"e","x":-0.7,"b":-1.39},
      {"p":"e","x":-0.6,"b":-0.45},{"p":"e","x":-0.6,"b":-0.55},{"p":"e","x":-0.6,"b":-0.67},{"p":"e","x":-0.5,"b":-0.45},{"p":"e","x":-0.5,"b":-0.55},{"p":"e","x":-0.4,"b":-0.36},
      {"p":"e","x":-0.3,"b":-0.22},{"p":"e","x":-0.2,"b":-0.1},{"p":"e","x":-0.2,"b":-0.17},{"p":"e","x":-0.1,"b":-0.05},{"p":"e","x":0.0,"b":0.0},
      {"p":"e","x":0.1,"b":0.37},{"p":"e","x":0.1,"b":-0.08},{"p":"e","x":0.1,"b":0.0},{"p":"e","x":0.1,"b":0.07},{"p":"e","x":0.1,"b":0.13},{"p":"e","x":0.1,"b":-0.51},
      {"p":"e","x":0.2,"b":-0.08},{"p":"e","x":0.2,"b":0.02},{"p":"e","x":0.2,"b":0.12},{"p":"e","x":0.2,"b":0.2},
      {"p":"e","x":0.3,"b":0.07},{"p":"e","x":0.4,"b":0.14},{"p":"e","x":0.5,"b":0.16},{"p":"e","x":0.6,"b":0.2},{"p":"e","x":0.7,"b":0.24},{"p":"e","x":0.8,"b":0.27},{"p":"e","x":0.9,"b":0.32},{"p":"e","x":1.0,"b":0.35},
      {"p":"e","x":1.1,"b":0.29},{"p":"e","x":1.1,"b":0.38},{"p":"e","x":1.1,"b":0.48},{"p":"e","x":1.2,"b":0.46},{"p":"e","x":1.3,"b":0.5},{"p":"e","x":1.4,"b":0.53},{"p":"e","x":1.5,"b":0.56},
      {"p":"e","x":1.6,"b":0.59},{"p":"e","x":1.7,"b":0.61},{"p":"e","x":1.8,"b":0.61},{"p":"e","x":1.9,"b":0.64},{"p":"e","x":2.0,"b":0.65},{"p":"e","x":2.1,"b":0.66},{"p":"e","x":2.2,"b":0.7},
      {"p":"e","x":2.3,"b":0.74},{"p":"e","x":2.4,"b":0.76},{"p":"e","x":2.5,"b":0.8},

      {"p":"f","x":-2.5,"b":1.16},{"p":"f","x":-2.4,"b":1.22},{"p":"f","x":-2.3,"b":1.27},{"p":"f","x":-2.2,"b":1.32},{"p":"f","x":-2.1,"b":1.36},
      {"p":"f","x":-2.0,"b":1.42},{"p":"f","x":-2.0,"b":1.5},{"p":"f","x":-2.0,"b":1.57},{"p":"f","x":-1.9,"b":1.46},{"p":"f","x":-1.9,"b":1.55},{"p":"f","x":-1.9,"b":1.65},
      {"p":"f","x":-1.8,"b":1.5},{"p":"f","x":-1.8,"b":1.6},{"p":"f","x":-1.8,"b":1.73},{"p":"f","x":-1.7,"b":1.8},{"p":"f","x":-1.6,"b":1.94},{"p":"f","x":-1.5,"b":2.08},{"p":"f","x":-1.4,"b":2.31},
      {"p":"f","x":-1.2,"b":-2.26},{"p":"f","x":-1.1,"b":-1.83},{"p":"f","x":-1.1,"b":-1.92},{"p":"f","x":-1.0,"b":-1.5},{"p":"f","x":-0.9,"b":-1.2},
      {"p":"f","x":-0.8,"b":-0.78},{"p":"f","x":-0.8,"b":-0.88},{"p":"f","x":-0.8,"b":-1.0},{"p":"f","x":-0.7,"b":-0.7},{"p":"f","x":-0.7,"b":-0.8},{"p":"f","x":-0.6,"b":-0.47},{"p":"f","x":-0.5,"b":-0.41},
      {"p":"f","x":-0.4,"b":-0.22},{"p":"f","x":-0.4,"b":-0.3},{"p":"f","x":-0.3,"b":-0.17},{"p":"f","x":-0.2,"b":-0.03},{"p":"f","x":-0.1,"b":0.04},{"p":"f","x":0.0,"b":0.06},{"p":"f","x":0.1,"b":0.14},{"p":"f","x":0.2,"b":0.17},
      {"p":"f","x":0.3,"b":0.2},{"p":"f","x":0.3,"b":0.28},{"p":"f","x":0.3,"b":0.36},{"p":"f","x":0.3,"b":-0.03},{"p":"f","x":0.4,"b":0.24},{"p":"f","x":0.4,"b":0.34},{"p":"f","x":0.4,"b":0.43},
      {"p":"f","x":0.5,"b":0.3},{"p":"f","x":0.6,"b":0.34},{"p":"f","x":0.7,"b":0.35},{"p":"f","x":0.8,"b":0.37},
      {"p":"f","x":0.9,"b":0.74},{"p":"f","x":0.9,"b":0.28},{"p":"f","x":0.9,"b":0.36},{"p":"f","x":0.9,"b":0.45},{"p":"f","x":0.9,"b":0.55},
      {"p":"f","x":1.0,"b":0.42},{"p":"f","x":1.1,"b":0.45},{"p":"f","x":1.2,"b":0.46},{"p":"f","x":1.3,"b":0.47},{"p":"f","x":1.4,"b":0.5},{"p":"f","x":1.5,"b":0.52},{"p":"f","x":1.6,"b":0.54},
      {"p":"f","x":1.7,"b":0.55},{"p":"f","x":1.8,"b":0.59},{"p":"f","x":1.9,"b":0.63},{"p":"f","x":2.0,"b":0.64},{"p":"f","x":2.1,"b":0.68},{"p":"f","x":2.2,"b":0.74},
      {"p":"f","x":2.3,"b":0.81},{"p":"f","x":2.3,"b":0.86},{"p":"f","x":2.4,"b":0.84},{"p":"f","x":2.5,"b":0.9}
    ]
  },
  "facet": {
    "field": "p",
    "type": "nominal",
    "header": {
      "title": null,
      "labelOrient": "bottom",
      "labelExpr": "{'a':'(a) 均值 -12°','b':'(b) 均值 -8°','c':'(c) 均值 -4°','d':'(d) 均值 12°','e':'(e) 均值 8°','f':'(f) 均值 4°'}[datum.value]",
      "labelFontSize": 66,
      "labelColor": "#000",
      "labelPadding": 63
    }
  },
  "columns": 3,
  "spacing": {"row": 93, "column": 84},
  "resolve": {"axis": {"x": "independent", "y": "independent"}},
  "spec": {
    "width": 952,
    "height": 807,
    "resolve": {"axis": {"x": "independent", "y": "independent"}},
    "layer": [
      {
        "transform": [{"filter": {"field": "r", "valid": true}}],
        "mark": {"type": "point", "filled": true, "size": 729, "strokeWidth": 0, "opacity": 1},
        "encoding": {
          "x": {"field": "x", "type": "quantitative", "scale": {"domain": [-2.5, 2.5], "nice": false, "zero": false},
                "axis": {"orient": "bottom", "values": [-2, -1, 0, 1, 2], "title": "信号入射角 (°)"}},
          "y": {"field": "r", "type": "quantitative", "scale": {"domain": [-2.5, 2.5], "nice": false, "zero": false},
                "axis": {"orient": "left", "values": [-2, -1, 0, 1, 2], "title": "雷达指示角 (°)"}},
          "color": {
            "datum": "对消前目标",
            "scale": {"domain": ["对消前目标", "目标真值", "干扰", "对消后目标"], "range": ["#ff0000", "#000000", "#00ff00", "#0000ff"]},
            "legend": {
              "orient": "none", "legendX": 932, "legendY": 2446, "direction": "horizontal", "title": null,
              "labelFontSize": 67, "labelColor": "#000", "symbolSize": 2300, "labelOffset": 28, "columnPadding": 61,
              "symbolStrokeWidth": 0, "labelLimit": 1000
            }
          },
          "shape": {
            "datum": "对消前目标",
            "scale": {"domain": ["对消前目标", "目标真值", "干扰", "对消后目标"],
              "range": [
                "M0,-1C0.442,-1,0.8,-0.552,0.8,0C0.8,0.552,0.442,1,0,1C-0.442,1,-0.8,0.552,-0.8,0C-0.8,-0.552,-0.442,-1,0,-1Z",
                "M-0.8,-0.13H0.8V0.13H-0.8ZM-0.13,-1H0.13V1H-0.13Z",
                "M0,-1C0.442,-1,0.8,-0.552,0.8,0C0.8,0.552,0.442,1,0,1C-0.442,1,-0.8,0.552,-0.8,0C-0.8,-0.552,-0.442,-1,0,-1Z",
                "M0,-1C0.442,-1,0.8,-0.552,0.8,0C0.8,0.552,0.442,1,0,1C-0.442,1,-0.8,0.552,-0.8,0C-0.8,-0.552,-0.442,-1,0,-1Z"
              ]}
          }
        }
      },
      {
        "transform": [{"filter": {"field": "g", "valid": true}}],
        "mark": {"type": "point", "filled": true, "size": 1089, "strokeWidth": 0, "opacity": 1},
        "encoding": {
          "x": {"field": "x", "type": "quantitative", "axis": {"orient": "top", "values": [-2, -1, 0, 1, 2], "labels": false, "title": null}},
          "y": {"field": "x", "type": "quantitative", "axis": {"orient": "right", "values": [-2, -1, 0, 1, 2], "labels": false, "title": null}},
          "color": {"datum": "目标真值"},
          "shape": {"datum": "目标真值"}
        }
      },
      {
        "transform": [{"filter": {"field": "g", "valid": true}}],
        "mark": {"type": "point", "filled": true, "size": 729, "strokeWidth": 0, "opacity": 1},
        "encoding": {
          "x": {"field": "x", "type": "quantitative", "axis": null},
          "y": {"field": "g", "type": "quantitative", "axis": null},
          "color": {"datum": "干扰"},
          "shape": {"datum": "干扰"}
        }
      },
      {
        "transform": [{"filter": {"field": "b", "valid": true}}],
        "mark": {"type": "point", "filled": true, "size": 729, "strokeWidth": 0, "opacity": 1},
        "encoding": {
          "x": {"field": "x", "type": "quantitative", "axis": null},
          "y": {"field": "b", "type": "quantitative", "axis": null},
          "color": {"datum": "对消后目标"},
          "shape": {"datum": "对消后目标"}
        }
      }
    ]
  },
  "config": {
    "font": "'Liberation Serif', 'Noto Sans CJK SC', serif",
    "view": {"stroke": null},
    "axis": {
      "grid": false, "domainColor": "#000", "domainWidth": 3, "tickColor": "#000", "tickWidth": 3, "tickSize": -14,
      "labelFontSize": 66, "labelColor": "#000", "titleFontSize": 66, "titleFontWeight": "normal", "titleColor": "#000",
      "labelFlush": false, "labelOverlap": false
    },
    "axisX": {"labelPadding": 50, "titlePadding": 36},
    "axisY": {"labelPadding": 56, "titlePadding": 40},
    "header": {"labelFont": "'Liberation Serif', 'Noto Sans CJK SC', serif"},
    "legend": {"labelFont": "'Liberation Serif', 'Noto Sans CJK SC', serif"}
  }
}
